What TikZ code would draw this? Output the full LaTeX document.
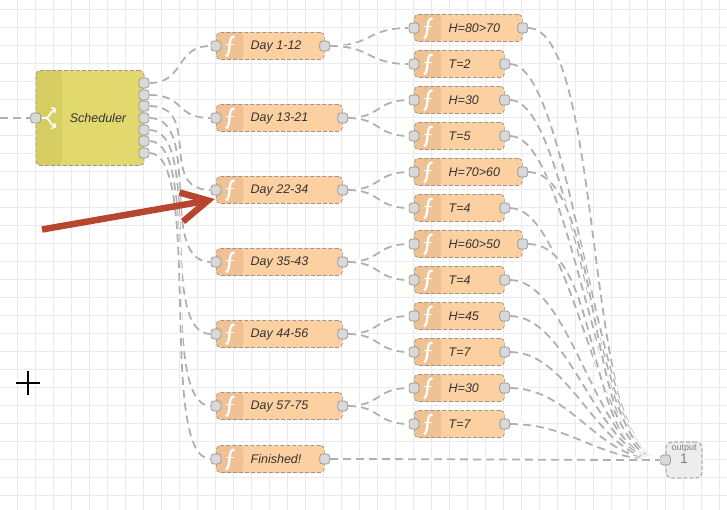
\documentclass[tikz,border=0pt]{standalone}
\usepackage{fontspec}
\setmainfont{Liberation Sans}
\usetikzlibrary{positioning}
\definecolor{gridcol}{HTML}{EBEBEB}
\definecolor{wirecol}{HTML}{B0B0B0}
\definecolor{edgecol}{HTML}{A39382}
\definecolor{fnfill}{HTML}{FDD0A2}
\definecolor{fnband}{HTML}{EFC193}
\definecolor{swfill}{HTML}{E2D96E}
\definecolor{swband}{HTML}{D6CD63}
\definecolor{redmark}{HTML}{B8452E}

\begin{document}
\begin{tikzpicture}[x=1pt, y=-1pt,
  gridline/.style={draw=gridcol, line width=0.8pt},
  fbox/.style={draw=edgecol, dashed, dash pattern=on 4pt off 2pt, rounded corners=4pt, line width=0.7pt, fill=fnfill, minimum height=27pt, inner sep=0pt, anchor=west,
    path picture={\fill[fnband] (path picture bounding box.north west) rectangle ([xshift=27pt]path picture bounding box.south west);}},
  swbox/.style={draw=edgecol, dashed, dash pattern=on 4pt off 2pt, rounded corners=4pt, line width=0.7pt, fill=swfill, minimum width=108pt, minimum height=95pt, inner sep=0pt,
    path picture={\fill[swband] (path picture bounding box.north west) rectangle ([xshift=26pt]path picture bounding box.south west);}},
  outbox/.style={draw=wirecol, dashed, dash pattern=on 4pt off 2pt, rounded corners=6pt, line width=1.2pt, fill=black!7, minimum size=36pt, inner sep=0pt},
  port/.style={draw=black!42, rounded corners=3pt, line width=0.7pt, fill=black!15, minimum size=10pt, inner sep=0pt},
  flabel/.style={inner sep=0pt, text=black!80, font=\itshape\fontsize{12.5}{14}\selectfont},
  ficon/.style={draw=white, line width=2.3pt},
  swicon/.style={draw=white, line width=1.7pt, line join=round},
  wire/.style={draw=wirecol, line width=1.8pt, dash pattern=on 8pt off 5pt, preaction={draw=white, solid, line width=3.4pt}},
  redline/.style={draw=redmark, line width=6.5pt}]
\useasboundingbox (0,0) rectangle (727,510);
\fill[white] (0,0) rectangle (727,510);
% background grid
\foreach \gx in {0,...,39} \draw[gridline] (17.3+18*\gx,0) -- (17.3+18*\gx,510);
\foreach \gy in {0,...,28} \draw[gridline] (0,9.7+18*\gy) -- (727,9.7+18*\gy);
% scheduler
\node[swbox] (sched) at (90,118) {};
\node[flabel, right=34pt of sched.west] (sched-label) {Scheduler};
\node[port] (sched-in) at (sched.west) {};
\foreach \nm/\py in {s1/83,s2/95,s3/106,s4/118,s5/130,s6/141,s7/153}
  \node[port] (\nm) at (144,\py) {};
\draw[swicon] (42,118) -- (46,118) .. controls (49,118) and (50,112) .. (54.5,109.5);
\draw[swicon] (46,118) .. controls (49,118) and (50,124) .. (54.5,126.5);
\draw[white, line width=1.4pt] (51,107.5) -- (55.5,109) -- (54.5,113);
\draw[white, line width=1.4pt] (51,128.5) -- (55.5,127) -- (54.5,123);
% function nodes
\foreach \nm/\px/\py/\boxw/\lbl in {
  d1/216/46/108/Day 1-12, d2/216/118/126/Day 13-21, d3/216/190/126/Day 22-34,
  d4/216/262/126/Day 35-43, d5/216/334/126/Day 44-56, d6/216/406/126/Day 57-75,
  d7/216/459/108/Finished!,
  t1/414/28/108/H=80>70, t2/414/64/90/T=2, t3/414/100/90/H=30, t4/414/136/90/T=5,
  t5/414/172/108/H=70>60, t6/414/208/90/T=4, t7/414/244/108/H=60>50, t8/414/280/90/T=4,
  t9/414/316/90/H=45, t10/414/352/90/T=7, t11/414/388/90/H=30, t12/414/424/90/T=7} {
  \node[fbox, minimum width=\boxw pt] (\nm) at (\px,\py) {};
  \draw[ficon] ([shift={(18.5,-9.5)}]\nm.west) .. controls +(-4,0) and +(0.5,-6) .. ([shift={(13.5,0)}]\nm.west) .. controls +(-0.5,6) and +(2,-1) .. ([shift={(10,10.5)}]\nm.west);
  \draw[white, line width=1.5pt] ([shift={(10,-1.5)}]\nm.west) -- ([shift={(17.5,-1.5)}]\nm.west);
  \node[flabel, right=34.5pt of \nm.west] (\nm-label) {\lbl};
  \node[port] (\nm-in) at (\nm.west) {};
  \node[port] (\nm-out) at (\nm.east) {};
}
% output
\node[outbox] (out) at (684,460) {};
\node[port] (out-in) at (out.west) {};
\node[inner sep=0pt, text=black!50, font=\fontsize{9}{10}\selectfont, below=3pt of out.north] (out-name) {output};
\node[inner sep=0pt, text=black!50, font=\fontsize{14}{14}\selectfont, below=1pt of out-name] (out-num) {1};
% wires
\coordinate (left) at (0,118);
\draw[wire] (left) -- (sched-in.west);
\foreach \src/\dst/\ctl in {s1/d1/36, s2/d2/36, s3/d3/54, s4/d4/54, s5/d5/54, s6/d6/54, s7/d7/54}
  \draw[wire] (\src.east) .. controls +(\ctl,0) and +(-\ctl,0) .. (\dst-in.west);
\foreach \src/\dst/\ctl in {d1/t1/42, d1/t2/42, d2/t3/32, d2/t4/32, d3/t5/32, d3/t6/32,
  d4/t7/32, d4/t8/32, d5/t9/32, d5/t10/32, d6/t11/32, d6/t12/32}
  \draw[wire] (\src-out.east) .. controls +(\ctl,0) and +(-\ctl,0) .. (\dst-in.west);
\foreach \src/\ctl in {t1/76, t2/62, t3/62, t4/62, t5/76, t6/62, t7/76, t8/62, t9/62, t10/62, t11/62, t12/62, d7/81}
  \draw[wire] (\src-out.east) .. controls +(\ctl,0) and +(-\ctl,0) .. (out-in.west);
% red arrow
\coordinate (tail) at (42,229.5);
\coordinate (tip) at (208,200.5);
\coordinate (armup) at (179.5,192.5);
\coordinate (armdn) at (183,221.5);
\draw[redline] (tail) -- (tip);
\draw[redline] (armup) -- (tip) -- (armdn);
% cursor
\coordinate (crossw) at (16,383);
\coordinate (crosse) at (40,383);
\coordinate (crossn) at (28,371);
\coordinate (crosss) at (28,395);
\draw[black, line width=1.5pt] (crossw) -- (crosse);
\draw[black, line width=1.5pt] (crossn) -- (crosss);
\end{tikzpicture}
\end{document}
